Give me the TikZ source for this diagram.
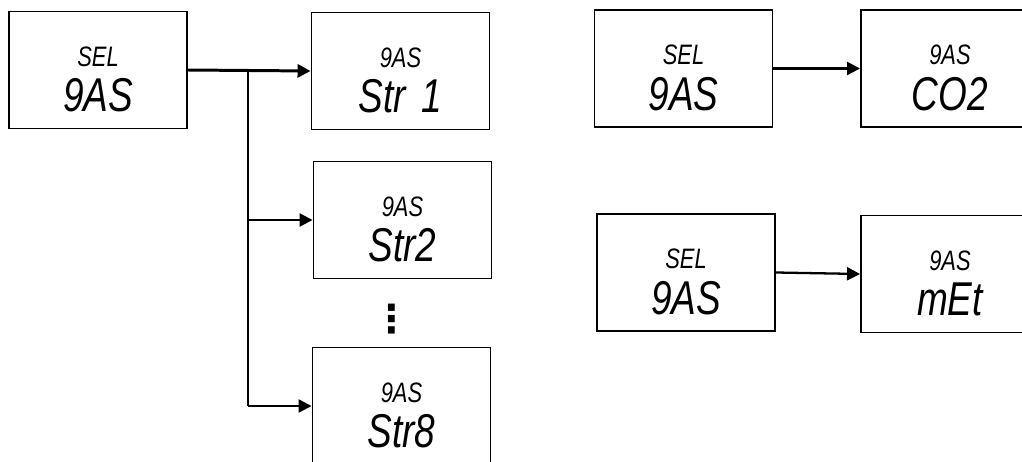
\documentclass[tikz,border=0pt]{standalone}
\usepackage{fontspec}
\newfontfamily\lcdfont{Liberation Sans}[FakeStretch=0.78]
\newfontfamily\dotsfont{DejaVu Sans}
\usetikzlibrary{calc,arrows.meta}
\newcommand
    {\LCD}[2]
    {%
        {\fontsize{16}{18}\selectfont\itshape\rule{0pt}{22pt}#1}\\[6pt]%
        {\fontsize{27}{29}\selectfont\itshape #2}%
    }
\tikzset{
    lcd/.style={draw,line width=1.1pt,minimum width=3.56cm,minimum height=2.34cm,
        align=center,font=\lcdfont,inner sep=0pt},
    arr/.style={line width=1.3pt,-{Triangle[length=2.6mm,width=2.6mm]}}
}

\begin{document}
\begin{tikzpicture}
        \useasboundingbox (0,0) rectangle (20.44cm,-9.24cm);

        % 1. Left group: SEL gas and the string branches
        \node (sel1) at (1.96cm,-1.40cm) [lcd] {\LCD{SEL}{9AS}};
        \node (str1) at (8.01cm,-1.42cm) [lcd] {\LCD{9AS}{Str\,\,1}};
        \node (str2) at (8.05cm,-4.40cm) [lcd] {\LCD{9AS}{Str2}};
        \node (str8) at (8.03cm,-8.12cm) [lcd] {\LCD{9AS}{Str8}};

        % Dots between Str2 and Str8
        \node (dots) at (7.84cm,-6.39cm) [font=\dotsfont\bfseries\fontsize{22}{22}\selectfont] {⋮};

        % Trunk position for the branches
        \coordinate (trunk) at (4.96cm,0);

        \draw[arr,line width=1.7pt] (sel1.east) -- (str1.west);
        \draw[line width=1.3pt] (trunk |- sel1.east) -- (trunk |- str8.west);
        \draw[arr] (trunk |- str2.west) -- (str2.west);
        \draw[arr] (trunk |- str8.west) -- (str8.west);

        % 2. Right group: CO2
        \node (sel2) at (13.67cm,-1.37cm) [lcd] {\LCD{SEL}{9AS}};
        \node (co2) at (19.00cm,-1.37cm) [lcd] {\LCD{9AS}{CO2}};
        \draw[arr] (sel2.east) -- (co2.west);

        % 3. Right group: methane
        \node (sel3) at (13.72cm,-5.45cm) [lcd] {\LCD{SEL}{9AS}};
        \node (met) at (19.00cm,-5.48cm) [lcd] {\LCD{9AS}{mEt}};
        \draw[arr] (sel3.east) -- (met.west);

    \end{tikzpicture}
\end{document}
